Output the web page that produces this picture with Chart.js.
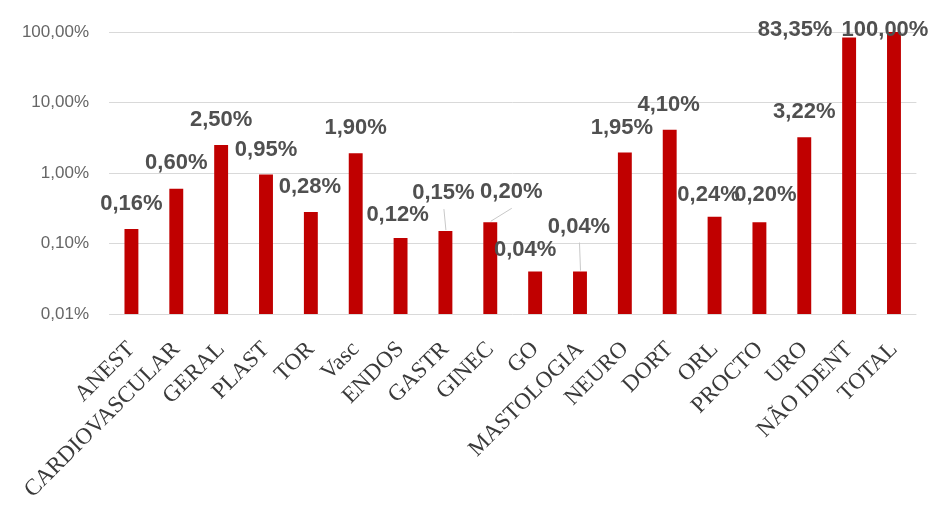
<!DOCTYPE html>
<html>
<head>
<meta charset="utf-8">
<script src="https://cdn.jsdelivr.net/npm/chart.js@4.4.1/dist/chart.umd.min.js"></script>
<style>
html,body{margin:0;padding:0;background:#fff;}
#wrap{width:936px;height:508px;position:relative;}
</style>
</head>
<body>
<div id="wrap"><canvas id="c" width="936" height="508"></canvas></div>
<script>
const categories = ["ANEST","CARDIOVASCULAR","GERAL","PLAST","TOR","Vasc","ENDOS","GASTR","GINEC","GO","MASTOLOGIA","NEURO","DORT","ORL","PROCTO","URO","NÃO IDENT","TOTAL"];
const percentValues = [0.16,0.60,2.50,0.95,0.28,1.90,0.12,0.15,0.20,0.04,0.04,1.95,4.10,0.24,0.20,3.22,83.35,100.00];
const yTickValues = [0.01,0.1,1,10,100];

// label placement (style): [dx, dy, leaderLine]
const labelPlacement = [
  [0,-25,false],[0,-26,false],[0,-25,false],[0,-25,false],[-1,-25,false],[0,-25,false],
  [-3,-23,false],[-2,-38,true],[21,-30,true],[-10,-22,false],[-1,-45,true],[-3,-25,false],
  [-1,-25,false],[-6,-22,false],[6,-27,false],[0,-25,false],[-54,-8,false],[-9,-2,false]
];

function fmtPct(v){ return v.toFixed(2).replace('.', ',') + '%'; }

const labelPlugin = {
  id: 'barLabels',
  afterDatasetsDraw(chart){
    const ctx = chart.ctx;
    const meta = chart.getDatasetMeta(0);
    ctx.save();
    meta.data.forEach((bar, i) => {
      const p = labelPlacement[i];
      const x = bar.x + p[0], y = bar.y + p[1];
      if (p[2]) {
        ctx.strokeStyle = '#c8c8c8';
        ctx.lineWidth = 1;
        ctx.beginPath();
        ctx.moveTo(x + 0.5, y + 16);
        ctx.lineTo(bar.x + 0.5, bar.y - 1);
        ctx.stroke();
      }
      ctx.font = 'bold 22px "Liberation Sans", Arial, sans-serif';
      ctx.fillStyle = '#505050';
      ctx.textAlign = 'center';
      ctx.textBaseline = 'middle';
      ctx.fillText(fmtPct(percentValues[i]), x, y);
    });
    ctx.restore();
  }
};

new Chart(document.getElementById('c'), {
  type: 'bar',
  data: {
    labels: categories,
    datasets: [{
      data: percentValues,
      backgroundColor: '#C00000',
      borderWidth: 0,
      barPercentage: 0.31,
      categoryPercentage: 1.0
    }]
  },
  options: {
    responsive: false,
    animation: false,
    events: [],
    layout: { padding: { left: 18, right: 18, top: 32, bottom: 0 } },
    plugins: { legend: { display: false }, tooltip: { enabled: false } },
    scales: {
      x: {
        grid: { display: false, drawTicks: false },
        border: { display: false },
        ticks: {
          minRotation: 45, maxRotation: 45, autoSkip: false, padding: 22,
          color: '#3a3a3a',
          font: { family: '"Liberation Serif", "Times New Roman", serif', size: 23 }
        },
        afterFit(s){ s.height = 194; }
      },
      y: {
        type: 'logarithmic',
        min: 0.01, max: 100,
        grid: { color: '#d9d9d9', lineWidth: 1, drawTicks: false },
        border: { display: false },
        afterBuildTicks(s){ s.ticks = yTickValues.map(v => ({ value: v })); },
        ticks: {
          padding: 20,
          color: '#666666',
          font: { family: '"Liberation Sans", Arial, sans-serif', size: 17 },
          callback(v){ return fmtPct(v); }
        },
        afterFit(s){ s.width = 91; }
      }
    }
  },
  plugins: [labelPlugin]
});
</script>
</body>
</html>
